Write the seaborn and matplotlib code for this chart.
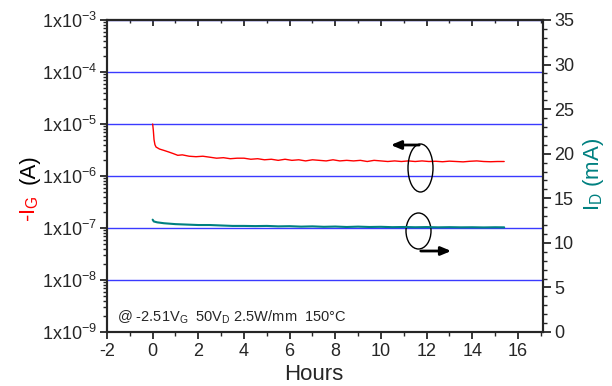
import numpy as np
import pandas as pd
import matplotlib
matplotlib.use("Agg")
import matplotlib.pyplot as plt
import seaborn as sns
from matplotlib.ticker import LogLocator, FuncFormatter, MultipleLocator, NullFormatter
from matplotlib.patches import Ellipse

# data
hours_g = [0.0, 0.03, 0.06, 0.1, 0.15, 0.2, 0.3, 0.5, 0.7, 0.9, 1.1, 1.3, 1.6, 1.9,
           2.2, 2.5, 2.8, 3.1, 3.4, 3.7, 4.0, 4.3, 4.6, 4.9, 5.2, 5.5, 5.8, 6.1,
           6.4, 6.7, 7.0, 7.3, 7.6, 7.9, 8.2, 8.5, 8.8, 9.1, 9.4, 9.7, 10.0, 10.3,
           10.6, 10.9, 11.2, 11.5, 11.8, 12.1, 12.4, 12.7, 13.0, 13.3, 13.6, 13.9,
           14.2, 14.5, 14.8, 15.1, 15.4]
ig_amps = [1.0e-5, 7.5e-6, 5.0e-6, 4.0e-6, 3.6e-6, 3.5e-6, 3.3e-6, 3.1e-6, 2.9e-6,
           2.7e-6, 2.5e-6, 2.55e-6, 2.4e-6, 2.35e-6, 2.4e-6, 2.3e-6, 2.2e-6, 2.25e-6,
           2.15e-6, 2.2e-6, 2.2e-6, 2.1e-6, 2.15e-6, 2.05e-6, 2.1e-6, 2.0e-6, 2.1e-6,
           2.0e-6, 2.05e-6, 1.95e-6, 2.05e-6, 2.0e-6, 1.95e-6, 2.05e-6, 1.95e-6,
           2.0e-6, 1.95e-6, 2.0e-6, 1.9e-6, 2.0e-6, 1.95e-6, 1.9e-6, 1.95e-6, 1.9e-6,
           1.95e-6, 1.9e-6, 1.95e-6, 1.9e-6, 1.92e-6, 1.88e-6, 1.93e-6, 1.9e-6,
           1.87e-6, 1.92e-6, 1.95e-6, 1.9e-6, 1.88e-6, 1.9e-6, 1.9e-6]

hours_d = [0.0, 0.05, 0.2, 0.5, 1.0, 1.5, 2.0, 2.5, 3.0, 3.5, 4.0, 4.5, 5.0, 5.5,
           6.0, 6.5, 7.0, 7.5, 8.0, 8.5, 9.0, 9.5, 10.0, 10.5, 11.0, 11.5, 12.0,
           12.5, 13.0, 13.5, 14.0, 14.5, 15.0, 15.4]
id_ma = [12.6, 12.4, 12.3, 12.2, 12.1, 12.05, 12.0, 12.0, 11.95, 11.9, 11.9, 11.88,
         11.9, 11.85, 11.87, 11.82, 11.85, 11.8, 11.83, 11.78, 11.82, 11.78, 11.8,
         11.76, 11.78, 11.75, 11.77, 11.74, 11.76, 11.74, 11.75, 11.73, 11.75, 11.74]

red = "#ff0000"
teal = "#008080"
grid_blue = "#3a3aff"

sns.set_style("ticks")
plt.rcParams["font.family"] = ["Liberation Sans", "DejaVu Sans"]
plt.rcParams["mathtext.fontset"] = "custom"
plt.rcParams["mathtext.rm"] = "Liberation Sans"
plt.rcParams["mathtext.it"] = "Liberation Sans"
plt.rcParams["mathtext.bf"] = "Liberation Sans"
plt.rcParams["axes.unicode_minus"] = False

W, H = 612, 386
fig = plt.figure(figsize=(W / 100, H / 100), dpi=100)
ax = fig.add_axes([107 / W, (H - 332) / H, 436 / W, 312 / H])

ax.set_yscale("log")
ax.set_ylim(1e-9, 1e-3)
ax.set_xlim(-2, 17.1)
ax.yaxis.grid(True, which="major", color=grid_blue, lw=1.0)
ax.set_axisbelow(True)

sns.lineplot(x=hours_g, y=ig_amps, ax=ax, color=red, lw=1.0)

ax.yaxis.set_major_locator(LogLocator(base=10, numticks=10))
ax.yaxis.set_minor_locator(LogLocator(base=10, subs=np.arange(2, 10), numticks=20))
ax.yaxis.set_minor_formatter(NullFormatter())
ax.yaxis.set_major_formatter(FuncFormatter(lambda v, p: r"1x10$^{%d}$" % round(np.log10(v))))
ax.xaxis.set_major_locator(MultipleLocator(2))
ax.xaxis.set_minor_locator(MultipleLocator(1))
ax.tick_params(axis="both", which="major", direction="out", length=5, width=1.3,
               labelsize=13, pad=2)
ax.tick_params(axis="both", which="minor", direction="out", length=3, width=1.0)
ax.tick_params(axis="x", pad=3)

top = ax.secondary_xaxis("top")
top.xaxis.set_major_locator(MultipleLocator(2))
top.xaxis.set_minor_locator(MultipleLocator(1))
top.tick_params(which="major", direction="in", length=4, width=1.3, labeltop=False)
top.tick_params(which="minor", direction="in", length=2, width=1.0)

ax2 = ax.twinx()
sns.lineplot(x=hours_d, y=id_ma, ax=ax2, color=teal, lw=1.5)
ax2.set_ylim(0, 35)
ax2.yaxis.set_major_locator(MultipleLocator(5))
ax2.yaxis.set_minor_locator(MultipleLocator(1))
ax2.tick_params(axis="y", which="major", direction="out", length=6, width=1.3,
                labelsize=13, pad=2)
ax2.tick_params(axis="y", which="minor", direction="out", length=3, width=1.0)
ax2.set_ylabel("")

for a in (ax, ax2):
    for s in a.spines.values():
        s.set_linewidth(1.5)
        s.set_visible(True)
top.spines["top"].set_linewidth(1.5)

ax.set_xlabel("")
ax.set_ylabel("")

# axis labels
fig.text(314 / W, 1 - 374 / H, "Hours", ha="center", va="center", fontsize=16)
fig.text(30 / W, 1 - 222 / H, r"-I$_G$", color=red, rotation=90,
         ha="center", va="bottom", fontsize=16)
fig.text(29 / W, 1 - 184 / H, "(A)", color="black", rotation=90,
         ha="center", va="bottom", fontsize=16)
fig.text(594 / W, 1 - 174 / H, r"I$_D$ (mA)", color=teal, rotation=90,
         ha="center", va="center", fontsize=16)

fig.text(117 / W, 1 - 322 / H, r"@ -2.51V$_G$  50V$_D$ 2.5W/mm  150°C",
         ha="left", va="baseline", fontsize=10.5)

# ellipses and arrows marking which axis each curve belongs to
def px(x, y):
    return ((x - 107) / 436, (332 - y) / 312)

for cx, cy, w, h in [(420.5, 168, 25, 48), (418.5, 231, 25, 36)]:
    ax.add_patch(Ellipse(px(cx, cy), w / 436, h / 312, transform=ax.transAxes,
                         fill=False, ec="black", lw=1.0, zorder=5))

ax.annotate("", xy=px(388, 145), xytext=px(422, 145), xycoords="axes fraction",
            arrowprops=dict(arrowstyle="-|>,head_length=0.6,head_width=0.25",
                            color="black", lw=2))
ax.annotate("", xy=px(454, 251), xytext=px(418, 251), xycoords="axes fraction",
            arrowprops=dict(arrowstyle="-|>,head_length=0.6,head_width=0.25",
                            color="black", lw=2))

plt.savefig("out.png", dpi=100)
plt.close()
